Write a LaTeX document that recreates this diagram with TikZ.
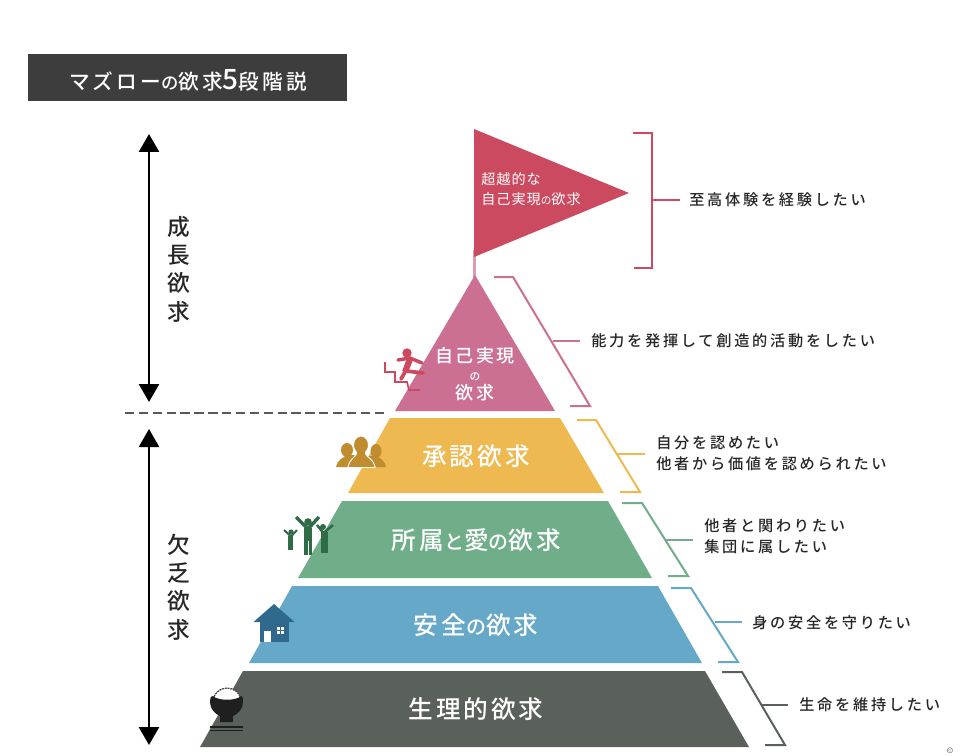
\documentclass[tikz,border=0pt]{standalone}
\usepackage{fontspec}
\usetikzlibrary{arrows.meta}
\newfontfamily\jp[LetterSpace=18]{Noto Sans CJK JP Medium}
\newfontfamily\jpt[LetterSpace=15]{Noto Sans CJK JP Medium}
\newfontfamily\jpf[LetterSpace=7]{Noto Sans CJK JP}
\newfontfamily\jpw[LetterSpace=12]{Noto Sans CJK JP Medium}
\definecolor{cflag}{HTML}{CC4A60}
\definecolor{cpink}{HTML}{CB7092}
\definecolor{cyel}{HTML}{EDB950}
\definecolor{cgrn}{HTML}{70AE8A}
\definecolor{cblu}{HTML}{66A8C8}
\definecolor{cgry}{HTML}{5A615A}
\definecolor{dyel}{HTML}{BF8C30}
\definecolor{dgrn}{HTML}{2F6B47}
\definecolor{dblu}{HTML}{2F6A8C}
\definecolor{chead}{HTML}{3D3D3D}
\tikzset{
  need/.style={font=\jpw\fontsize{18.5}{22}\selectfont,text=white,inner sep=0pt,align=center},
  want/.style={font=\jp\fontsize{11.4}{16}\selectfont,text=black!85,inner sep=0pt,align=left,anchor=west},
  side/.style={font=\jpw\fontsize{17}{21.3}\selectfont,text=black!85,inner sep=0pt,align=center},
  brk/.style={line width=1.5pt,line join=miter},
  span/.style={line width=2pt,{Triangle[length=13.5pt,width=15pt]}-{Triangle[length=13.5pt,width=15pt]},black}
}
\begin{document}
\begin{tikzpicture}[x=0.75pt,y=-0.75pt]
\useasboundingbox (0,0) rectangle (960,756);
% header
\fill[chead] (28,54) rectangle (347,101);
\node[inner sep=0pt,text=white,font=\jpt\fontsize{15.5}{16}\selectfont] (title) at (188,80) {マズロー{\fontsize{13}{13}\selectfont の}欲求{\fontsize{21}{21}\selectfont 5}段階説};
% arrows and divider
\coordinate (g1) at (149,134); \coordinate (g2) at (149,402);
\coordinate (d1) at (149,429); \coordinate (d2) at (149,745);
\draw[span] (g1) -- (g2);
\draw[span] (d1) -- (d2);
\coordinate (dash1) at (125,413); \coordinate (dash2) at (385,413);
\draw[line width=1.3pt,black!65,dash pattern=on 7pt off 3.4pt] (dash1) -- (dash2);
\node[side] (grow) at (179,269) {成\\長\\欲\\求};
\node[side] (lack) at (179,587) {欠\\乏\\欲\\求};
% pyramid
\draw[cpink!70,line width=2pt] (474.5,250) -- (474.5,278);
\fill[cflag] (474,129) -- (629,193) -- (474,257) -- cycle;
\fill[cpink] (475,275) -- (555,411) -- (395,411) -- cycle;
\fill[cyel] (390,418) -- (560,418) -- (604,493) -- (348,493) -- cycle;
\fill[cgrn] (342,501) -- (608,501) -- (652,578) -- (298,578) -- cycle;
\fill[cblu] (292,586) -- (658,586) -- (702,663) -- (249,663) -- cycle;
\fill[cgry] (243,671) -- (705,671) -- (749,747) -- (200,747) -- cycle;
% pyramid labels
\node[inner sep=0pt,text=white,font=\jpf\fontsize{10.6}{15}\selectfont,align=left,anchor=west] (n0) at (481,189) {超越的な\\自己実現{\fontsize{8}{8}\selectfont の}欲求};
\node[need,font=\jpw\fontsize{13.5}{17}\selectfont] (n1) at (475,374) {自己実現\\[-3pt]{\fontsize{8}{8}\selectfont の}\\[-3pt]欲求};
\node[need] (n2) at (476,456) {承認欲求};
\node[need] (n3) at (476.5,540) {所属{\fontsize{15}{15}\selectfont と}愛{\fontsize{15}{15}\selectfont の}欲求};
\node[need] (n4) at (476,625) {安全{\fontsize{15}{15}\selectfont の}欲求};
\node[need] (n5) at (476,709) {生理的欲求};
% want labels
\node[want] (w0) at (689,200) {至高体験を経験したい};
\node[want] (w1) at (591,341) {能力を発揮して創造的活動をしたい};
\node[want] (w2) at (656,453.5) {自分を認めたい\\他者から価値を認められたい};
\node[want] (w3) at (704,536.5) {他者と関わりたい\\集団に属したい};
\node[want] (w4) at (752,623) {身の安全を守りたい};
\node[want] (w5) at (799,705) {生命を維持したい};
% brackets
\draw[brk,cflag] (633,133) -- (652,133) -- (652,268) -- (634,268);
\coordinate (s0) at (652,200); \coordinate (e0) at (680,200);
\draw[brk,cflag] (s0) -- (e0);
\draw[brk,cpink] (494,277) -- (513,277) -- (590,406) -- (570,406);
\coordinate (s1) at (553,341); \coordinate (e1) at (580,341);
\draw[brk,cpink] (s1) -- (e1);
\draw[brk,cyel] (577,420) -- (596,420) -- (640,492) -- (620,492);
\coordinate (s2) at (617,454); \coordinate (e2) at (645,454);
\draw[brk,cyel] (s2) -- (e2);
\draw[brk,cgrn] (622,503) -- (642,503) -- (688,576) -- (668,576);
\coordinate (s3) at (665,540); \coordinate (e3) at (693,540);
\draw[brk,cgrn] (s3) -- (e3);
\draw[brk,cblu] (671,588) -- (691,588) -- (738,662) -- (718,662);
\coordinate (s4) at (715,622); \coordinate (e4) at (742,622);
\draw[brk,cblu] (s4) -- (e4);
\draw[brk,cgry] (722,672) -- (742,672) -- (785,745) -- (765,745);
\coordinate (s5) at (762,705); \coordinate (e5) at (788,705);
\draw[brk,cgry] (s5) -- (e5);
% runner icon
\begin{scope}[cflag]
\fill (407,353) circle (4.7);
\draw[line width=2.6pt,line cap=round,line join=round] (398,360) -- (410,358) -- (422,363);
\draw[line width=4.6pt,line join=round] (410,359) -- (405,372);
\draw[line width=2.8pt,line cap=round,line join=round] (406,371) -- (423,373);
\draw[line width=2.8pt,line cap=round] (405,372) -- (401,379);
\draw[line width=1.3pt] (385,362) -- (385,372) -- (395,372) -- (395,382) -- (407,382) -- (409,390) -- (420,390);
\end{scope}
% people icon
\begin{scope}[dyel]
\fill (347,450) ellipse (6 and 7) (376,451) ellipse (5.5 and 7);
\fill (336,467) .. controls (337,460) and (343,458) .. (347,455) -- (356,455) -- (356,467) -- cycle;
\fill (368,467) -- (368,456) -- (377,456) .. controls (381,459) and (385,461) .. (386,467) -- cycle;
\draw[white,line width=0.7pt,fill=dyel] (348,467.5) .. controls (349,459) and (355,458) .. (357,453) -- (365,453) .. controls (367,458) and (374,459) .. (375,467.5) -- cycle;
\draw[white,line width=0.7pt,fill=dyel] (361,445) ellipse (7.5 and 9);
\fill (357,450) rectangle (365,457);
\end{scope}
% group icon
\begin{scope}[dgrn,line cap=butt,line join=round]
\fill (291,532) circle (2.6) (308,522) circle (3.8) (323,527) circle (3);
\draw[line width=1.5pt] (284,530) -- (291,536.5) -- (297,530);
\draw[line width=3.7pt] (290.5,536) -- (290.5,550);
\draw[line width=2.5pt] (296,517) -- (308,529) -- (319,517);
\draw[line width=6.7pt] (308,528) -- (308,555);
\draw[white,line width=.6pt] (308,541) -- (308,555);
\draw[line width=1.9pt] (317,525) -- (323.5,533) -- (333,525);
\draw[line width=5pt] (324.5,532) -- (324.5,553);
\end{scope}
% house icon
\begin{scope}[dblu]
\fill (274,604) -- (294.5,622) -- (253.5,622) -- cycle;
\fill (259.5,620) rectangle (289,642);
\fill[white] (264,631) rectangle (271,642);
\fill[white] (277,627) rectangle (283.5,634);
\draw[dblu,line width=.4pt] (280.2,627) -- (280.2,634) (277,630.5) -- (283.5,630.5);
\end{scope}
% rice bowl icon
\begin{scope}
\fill[white,draw=black!70,line width=1pt,dash pattern=on 1.5pt off .6pt] (213,702) .. controls (213,693) and (221,688) .. (227,688) .. controls (234,688) and (241,693) .. (241,702) -- cycle;
\fill[black!88] (210,702) .. controls (210,697) and (212,695) .. (213,696) .. controls (218,701) and (236,701) .. (241,696) .. controls (242,695) and (243,697) .. (243,702) .. controls (243,709) and (238,714) .. (233,716) -- (233,722) -- (220,722) -- (220,716) .. controls (215,714) and (210,709) .. (210,702) -- cycle;
\draw[black!88,line width=1.2pt] (210,727) -- (243,727) (210,730.5) -- (243,730.5);
\end{scope}
\node[inner sep=0pt,font=\fontsize{6}{6}\selectfont,anchor=west,text=black!80] (copy) at (947,751) {©};
\end{tikzpicture}
\end{document}
